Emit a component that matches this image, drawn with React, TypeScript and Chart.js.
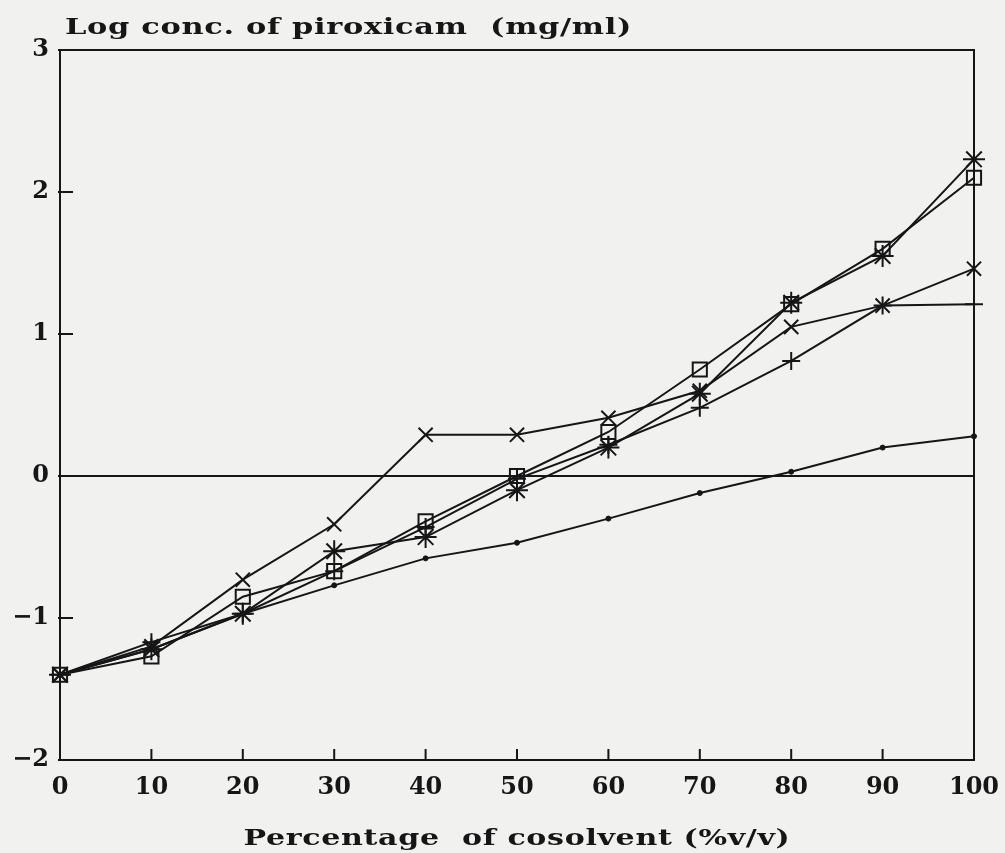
import React, { useEffect, useRef } from 'react';
import { Chart, registerables } from 'chart.js';

Chart.register(...registerables);

// ---- data ----
const cosolventPct = [0, 10, 20, 30, 40, 50, 60, 70, 80, 90, 100];
const seriesDot = [-1.4, -1.22, -0.97, -0.77, -0.58, -0.47, -0.3, -0.12, 0.03, 0.2, 0.28];
const seriesSquare = [-1.4, -1.27, -0.85, -0.67, -0.32, 0.0, 0.31, 0.75, 1.21, 1.6, 2.1];
const seriesCross = [-1.4, -1.2, -0.73, -0.34, 0.29, 0.29, 0.41, 0.6, 1.05, 1.2, 1.46];
const seriesStar = [-1.4, -1.22, -0.97, -0.53, -0.43, -0.1, 0.2, 0.58, 1.22, 1.55, 2.23];
const seriesPlus = [-1.4, -1.17, -0.97, -0.67, -0.36, -0.02, 0.22, 0.48, 0.81, 1.2, 1.21];

const xTickValues = [0, 10, 20, 30, 40, 50, 60, 70, 80, 90, 100];
const yTickValues = [-2, -1, 0, 1, 2, 3];
const yAxisTitle = 'Log conc. of piroxicam  (mg/ml)';
const xAxisTitle = 'Percentage  of cosolvent (%v/v)';

const INK = '#161616';
const PAPER = '#f1f1f0';
const FONT = '"DejaVu Serif", serif';

const toPoints = (ys: number[]) => cosolventPct.map((x, i) => ({ x, y: ys[i] }));

// draws text stretched horizontally to imitate the wide printer typeface
function wideText(ctx: any, text: string, x: number, y: number, targetW: number, align: 'left' | 'center') {
  ctx.save();
  ctx.font = `bold 23px ${FONT}`;
  ctx.letterSpacing = '0.5px';
  ctx.textAlign = 'left';
  ctx.textBaseline = 'alphabetic';
  const w = ctx.measureText(text).width;
  const sx = targetW / w;
  const x0 = align === 'center' ? x - targetW / 2 : x;
  ctx.translate(x0, y);
  ctx.scale(sx, 1);
  ctx.fillText(text, 0, 0);
  ctx.restore();
}

const framePlugin = {
  id: 'frameTicks',
  beforeDraw(chart: any) {
    const ctx = chart.ctx;
    ctx.save();
    ctx.fillStyle = PAPER;
    ctx.fillRect(0, 0, chart.width, chart.height);
    ctx.restore();
  },
  beforeDatasetsDraw(chart: any) {
    const { ctx, chartArea: a, scales } = chart;
    const x = scales.x;
    const y = scales.y;
    ctx.save();
    ctx.strokeStyle = INK;
    ctx.lineWidth = 2;
    ctx.strokeRect(a.left, a.top, a.right - a.left, a.bottom - a.top);
    ctx.beginPath();
    x.ticks.forEach((t: any) => {
      const px = x.getPixelForValue(t.value);
      ctx.moveTo(px, a.bottom);
      ctx.lineTo(px, a.bottom - 11);
    });
    y.ticks.forEach((t: any) => {
      const py = y.getPixelForValue(t.value);
      ctx.moveTo(a.left - 2, py);
      ctx.lineTo(a.left + 13, py);
    });
    ctx.stroke();
    ctx.restore();
  },
  afterDraw(chart: any) {
    const { ctx, chartArea: a } = chart;
    ctx.fillStyle = INK;
    wideText(ctx, yAxisTitle, a.left + 5, a.top - 16, 567, 'left');
    wideText(ctx, xAxisTitle, (a.left + a.right) / 2, 845, 547, 'center');
  },
};

export default function App() {
  const ref = useRef<HTMLCanvasElement | null>(null);

  useEffect(() => {
    if (!ref.current) return;
    const common = {
      showLine: true,
      borderColor: INK,
      borderWidth: 2,
      pointBorderColor: INK,
      pointBorderWidth: 2,
      pointBackgroundColor: 'rgba(0,0,0,0)',
      clip: false as any,
      tension: 0,
    };
    const chart = new Chart(ref.current, {
      type: 'scatter',
      data: {
        datasets: [
          { ...common, label: 'dot', data: toPoints(seriesDot), pointStyle: 'circle', pointRadius: 2.5, pointBackgroundColor: INK, pointBorderWidth: 1 },
          { ...common, label: 'square', data: toPoints(seriesSquare), pointStyle: 'rect', pointRadius: 10 },
          { ...common, label: 'cross', data: toPoints(seriesCross), pointStyle: 'crossRot', pointRadius: 10 },
          { ...common, label: 'star', data: toPoints(seriesStar), pointStyle: 'star', pointRadius: 11 },
          { ...common, label: 'plus', data: toPoints(seriesPlus), pointStyle: 'cross', pointRadius: 9 },
        ] as any,
      },
      options: {
        animation: false,
        responsive: false,
        layout: { padding: { top: 50, right: 31, left: 0, bottom: 0 } },
        plugins: { legend: { display: false }, tooltip: { enabled: false } },
        scales: {
          x: {
            type: 'linear',
            min: 0,
            max: 100,
            afterFit: (s: any) => { s.height = 93; s.paddingLeft = 0; s.paddingRight = 0; },
            afterBuildTicks: (s: any) => { s.ticks = xTickValues.map((v) => ({ value: v })); },
            grid: { display: false, drawTicks: false },
            border: { display: false },
            ticks: { color: INK, padding: 13, font: { family: FONT, size: 24, weight: 'bold' }, maxRotation: 0 },
            title: { display: false },
          },
          y: {
            type: 'linear',
            min: -2,
            max: 3,
            afterFit: (s: any) => { s.width = 60; s.paddingTop = 0; s.paddingBottom = 0; },
            afterBuildTicks: (s: any) => { s.ticks = yTickValues.map((v) => ({ value: v })); },
            grid: {
              drawTicks: false,
              color: (c: any) => (c.tick && c.tick.value === 0 ? INK : 'rgba(0,0,0,0)'),
              lineWidth: 2,
            },
            border: { display: false },
            ticks: {
              color: INK,
              padding: 11,
              font: { family: FONT, size: 24, weight: 'bold' },
              callback: (v: any) => (Number(v) < 0 ? '\u2212' + Math.abs(Number(v)) : String(v)),
            },
          },
        },
      } as any,
      plugins: [framePlugin],
    });
    return () => chart.destroy();
  }, []);

  return (
    <div style={{ position: 'fixed', left: 0, top: 0, width: 1005, height: 853, background: PAPER }}>
      <canvas ref={ref} width={1005} height={853} style={{ display: 'block', width: 1005, height: 853 }} />
    </div>
  );
}
